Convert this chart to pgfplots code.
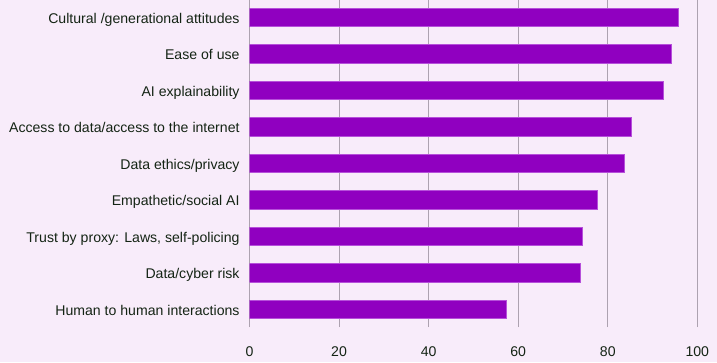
\documentclass[border=0pt]{standalone}
\usepackage{fontspec}
\setmainfont{Liberation Sans}
\usepackage{pgfplots}
\pgfplotsset{compat=1.18}
\definecolor{bg}{HTML}{F8ECFA}
\definecolor{barc}{HTML}{9000C0}
\definecolor{baredge}{HTML}{B650DA}
\definecolor{gridc}{HTML}{ADA2B0}
\definecolor{txt}{HTML}{142414}
\begin{document}
\begin{tikzpicture}[x=1bp,y=1bp]
\fill[bg] (0,0) rectangle (717,-362);
\useasboundingbox (0,0) rectangle (717,-362);
\begin{axis}[
  at={(249.5bp,0bp)}, anchor=north west,
  scale only axis, width=447.8bp, height=327bp,
  xmin=0, xmax=100, ymin=-0.485, ymax=8.48,
  xbar, bar width=18.5bp,
  xtick={0,20,...,100},
  xmajorgrids, major grid style={gridc, line width=1bp},
  axis line style={draw=none},
  tick style={draw=none},
  ytick={0,...,8},
  yticklabels={Human to human interactions, Data/cyber risk, {Trust by proxy: Laws, self-policing}, Empathetic/social AI, Data ethics/privacy, Access to data/access to the internet, AI explainability, Ease of use, Cultural /generational attitudes},
  yticklabel style={anchor=base east, inner sep=0pt, xshift=-5.5bp, yshift=-5.8bp, text=txt, font=\fontsize{14.1bp}{16bp}\selectfont},
  xticklabel style={anchor=center, inner sep=0pt, yshift=-25bp, text=txt, font=\fontsize{14.1bp}{16bp}\selectfont},
  /pgf/number format/assume math mode=true,
]
\addplot[fill=barc, draw=baredge, line width=0.6bp] coordinates {(57.3,0) (73.8,1) (74.3,2) (77.7,3) (83.7,4) (85.3,5) (92.4,6) (94.2,7) (95.7,8)};
\end{axis}
\end{tikzpicture}
\end{document}
